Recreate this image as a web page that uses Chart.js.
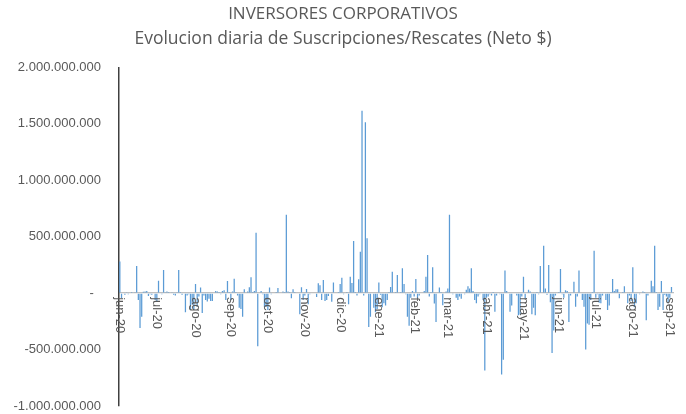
<!DOCTYPE html>
<html>
<head>
<meta charset="utf-8">
<script src="https://cdn.jsdelivr.net/npm/chart.js@4.4.1/dist/chart.umd.min.js"></script>
<style>
  html, body { margin: 0; padding: 0; background: #fff; }
  #wrap { width: 686px; height: 414px; }
</style>
</head>
<body>
<div id="wrap"><canvas id="flujos"></canvas></div>
<script>
// etiquetas de mes (van en el primer dia habil de cada mes)
const monthLabels = ["jun-20", "jul-20", "ago-20", "sep-20", "oct-20", "nov-20", "dic-20", "ene-21",
  "feb-21", "mar-21", "abr-21", "may-21", "jun-21", "jul-21", "ago-21", "sep-21"];

// neto diario por dia habil, en millones de $
const jun20 = [280, -45, 5, -15, 8, -10, 5, 10, -5, 3, 240, -60, -310, -210, 12, 15, 18, -25, -10, -15, 5, -60];
const jul20 = [-70, 110, 5, -10, 205, 8, 15, 10, -5, 3, -15, -20, 8, 205, 10, -15, 5, -170, -20, -10, -140, -100, -150];
const ago20 = [80, -120, -30, 50, -175, -20, -60, -75, -50, -70, -70, 5, 20, 15, 10, -10, 20, 25, -60, 107, 10];
const sep20 = [-60, 15, 127, 10, -20, -130, -140, -210, 35, 5, 15, 53, 140, 10, 20, 535, -470, 5, 20, -10, -125, -120];
const oct20 = [-150, 50, -10, 5, -5, 10, 45, -5, 5, 15, 10, 694, 15, 10, -45, 35, 10, -5, 5, -187, 53, -60];
const nov20 = [-20, 36, -98, -10, 5, -5, 5, -35, 87, 70, -60, 116, -70, -60, -25, -5, -77, 95, 5, -5, 10];
const dic20 = [80, 136, -10, 5, 10, -98, 145, 90, 463, 10, -20, 124, 367, 1615, -20, 1515, 487, -300, -210, 5, -130, -170, -140];
const ene21 = [95, -15, -125, -90, -110, -60, 10, 55, 190, -5, 10, 160, 5, 10, 220, 80, -10, -210, -290, -40, 20];
const feb21 = [-30, 125, -45, -20, 5, -5, 20, 145, 338, -30, 10, 230, -92, -255, 5, 50, 10, -107, 5, 15];
const mar21 = [40, 694, 5, -10, -5, -40, -60, -30, -50, 5, -10, 30, 62, 40, 220, 20, -60, -90, -30, -10, 5, -60, -685];
const abr21 = [-40, -30, -10, -20, 10, -166, -20, 5, -10, -720, -590, 200, 20, 5, -165, -110, 5, -5, -20, -195, -190, -30];
const may21 = [145, -50, 5, 30, 15, -187, -130, -195, 10, -10, 240, 5, 420, 40, -15, 250, -80, -530, -330, -20, -5];
const jun21 = [10, 213, -10, -40, 25, 20, -255, -20, 5, 100, -120, -30, 200, 5, -60, -120, -500, -270, -280, -60, 10, 375];
const jul21 = [-40, -10, -85, -90, -20, 5, -60, -150, -110, 10, 125, 20, 35, 35, -45, 5, 10, 62, 5, -90, -20, -70];
const ago21 = [230, -125, -90, 5, -10, 5, 15, 10, -240, -20, 5, 110, 60, 420, 10, -150, -120, 107, -150, -15, -30, -90];
const sep21 = [-40, 55, 5];

const yTickValues = [-1000000000, -500000000, 0, 500000000, 1000000000, 1500000000, 2000000000];

// armamos la serie completa y las etiquetas por dia
const monthSeries = [jun20, jul20, ago20, sep20, oct20, nov20, dic20, ene21, feb21, mar21, abr21, may21, jun21, jul21, ago21, sep21];
const labels = [];
const values = [];
const monthStarts = [];
monthSeries.forEach((serie, m) => {
    monthStarts.push(values.length);
    serie.forEach((v, d) => {
        labels.push(d === 0 ? monthLabels[m] : "");
        values.push(v * 1000000);
    });
});

function formatoPesos(v) {
    if (v === 0) return "-  ";
    const s = String(Math.abs(v)).replace(/\B(?=(\d{3})+(?!\d))/g, ".");
    return (v < 0 ? "-" : "") + s;
}

// etiquetas de mes verticales, debajo de la linea del cero
const etiquetasMes = {
    id: "etiquetasMes",
    afterDatasetsDraw(chart) {
        const ctx = chart.ctx;
        const x = chart.scales.x;
        const y0 = chart.scales.y.getPixelForValue(0);
        ctx.save();
        ctx.fillStyle = "#595959";
        ctx.font = "13px 'Liberation Sans', Arial, sans-serif";
        ctx.textAlign = "left";
        ctx.textBaseline = "middle";
        monthStarts.forEach((idx) => {
            ctx.save();
            ctx.translate(x.getPixelForValue(idx), y0 + 4);
            ctx.rotate(Math.PI / 2);
            ctx.fillText(labels[idx], 0, 0);
            ctx.restore();
        });
        ctx.restore();
    }
};

new Chart(document.getElementById("flujos"), {
    type: "bar",
    data: {
        labels: labels,
        datasets: [{
            data: values,
            backgroundColor: "#5B9BD5",
            barPercentage: 0.75,
            categoryPercentage: 1
        }]
    },
    options: {
        responsive: true,
        maintainAspectRatio: false,
        animation: false,
        layout: { padding: { top: 0, right: 0, bottom: 8, left: 0 } },
        scales: {
            x: { display: false },
            y: {
                min: -1000000000,
                max: 2000000000,
                afterBuildTicks: (scale) => { scale.ticks = yTickValues.map(v => ({ value: v })); },
                afterFit: (scale) => {
                    scale.width = 119;
                    // que el padding de las etiquetas no achique el area vertical
                    scale.paddingTop = 8;
                    scale.paddingBottom = 8;
                },
                ticks: {
                    padding: 18,
                    color: "#595959",
                    font: { family: "'Liberation Sans', Arial, sans-serif", size: 13 },
                    callback: (v) => formatoPesos(v)
                },
                grid: {
                    drawTicks: false,
                    color: (c) => (c.tick && c.tick.value === 0 ? "#BFBFBF" : "rgba(0,0,0,0)"),
                    lineWidth: 1.3
                },
                border: { display: true, color: "#404040", width: 1.5 }
            },
            // eje vacio a la derecha, solo deja el margen sin descentrar el titulo
            margenDer: {
                position: "right",
                min: 0,
                max: 1,
                grid: { display: false, drawTicks: false },
                border: { display: false },
                ticks: { display: false },
                afterFit: (scale) => { scale.width = 12; }
            }
        },
        plugins: {
            legend: { display: false },
            tooltip: { enabled: false },
            title: {
                display: true,
                text: "INVERSORES CORPORATIVOS",
                color: "#595959",
                font: { family: "'Open Sans', sans-serif", size: 17, weight: "normal" },
                padding: { top: 4, bottom: 2 }
            },
            subtitle: {
                display: true,
                text: "Evolucion diaria de Suscripciones/Rescates (Neto $)",
                color: "#595959",
                font: { family: "'Open Sans', sans-serif", size: 17.5, weight: "normal" },
                padding: { top: 2, bottom: 18 }
            }
        }
    },
    plugins: [etiquetasMes]
});
</script>
</body>
</html>
